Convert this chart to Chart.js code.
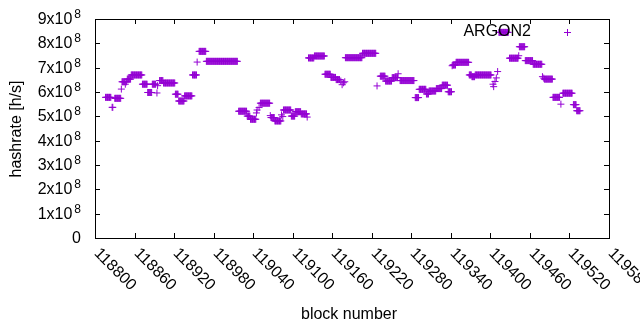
<!DOCTYPE html>
<html>

<head>
    <title>ARGON2 hashrate</title>
    <script src="https://cdn.jsdelivr.net/npm/chart.js"></script>
    <style>
        body { margin: 0; background: #fff; }
        #wrap { width: 640px; height: 330px; }
    </style>
</head>

<body>
    <div id="wrap"><canvas id="hashChart"></canvas></div>
    <script>
        // runs of blocks with the same hashrate: first block, last block, hashrate [h/s]
        var runStart = [118816, 118826, 118830, 118840, 118841, 118846, 118847, 118849, 118855, 118872,
            118880, 118887, 118894, 118895, 118898, 118904, 118922, 118927, 118936, 118948,
            118955, 118958, 118969, 119018, 119031, 119036, 119045, 119046, 119049, 119051,
            119066, 119067, 119073, 119083, 119085, 119086, 119098, 119104, 119113, 119122,
            119124, 119133, 119149, 119158, 119166, 119173, 119175, 119177, 119179, 119180,
            119206, 119228, 119233, 119241, 119251, 119260, 119263, 119286, 119292, 119303,
            119307, 119318, 119327, 119336, 119342, 119343, 119348, 119368, 119372, 119377,
            119404, 119405, 119407, 119409, 119411, 119413, 119429, 119443, 119444, 119453,
            119465, 119479, 119481, 119482, 119495, 119507, 119510, 119526, 119531];
        var runEnd = [118824, 118827, 118839, 118840, 118845, 118846, 118848, 118854, 118871, 118879,
            118886, 118892, 118894, 118895, 118903, 118921, 118926, 118935, 118947, 118954,
            118955, 118968, 119016, 119030, 119035, 119044, 119045, 119046, 119049, 119065,
            119066, 119072, 119082, 119083, 119085, 119097, 119103, 119112, 119121, 119122,
            119132, 119148, 119157, 119165, 119171, 119173, 119175, 119177, 119179, 119205,
            119226, 119228, 119240, 119250, 119259, 119260, 119284, 119291, 119302, 119306,
            119317, 119326, 119335, 119341, 119342, 119347, 119367, 119371, 119376, 119401,
            119404, 119405, 119407, 119409, 119411, 119427, 119442, 119443, 119452, 119464,
            119478, 119479, 119481, 119494, 119505, 119507, 119524, 119530, 119536];
        var runHashrate = [5.78e8, 5.37e8, 5.74e8, 6.12e8, 6.42e8, 6.32e8, 6.42e8, 6.53e8, 6.70e8, 6.32e8,
            5.98e8, 6.32e8, 5.96e8, 6.26e8, 6.47e8, 6.37e8, 5.91e8, 5.63e8, 5.84e8, 6.70e8,
            7.23e8, 7.67e8, 7.26e8, 5.21e8, 5.01e8, 4.88e8, 5.14e8, 5.26e8, 5.36e8, 5.54e8,
            5.03e8, 4.95e8, 4.81e8, 5.06e8, 4.99e8, 5.26e8, 5.01e8, 5.19e8, 5.10e8, 4.97e8,
            7.40e8, 7.48e8, 6.73e8, 6.60e8, 6.51e8, 6.45e8, 6.30e8, 6.38e8, 6.42e8, 7.41e8,
            7.59e8, 6.25e8, 6.65e8, 6.45e8, 6.59e8, 6.75e8, 6.47e8, 5.77e8, 6.11e8, 5.92e8,
            6.04e8, 6.14e8, 6.28e8, 6.01e8, 7.08e8, 7.11e8, 7.22e8, 6.70e8, 6.63e8, 6.70e8,
            6.32e8, 6.22e8, 6.43e8, 6.58e8, 6.84e8, 8.45e8, 7.39e8, 7.49e8, 7.86e8, 7.29e8,
            7.14e8, 6.63e8, 6.57e8, 6.53e8, 5.78e8, 5.50e8, 5.95e8, 5.48e8, 5.23e8];

        var xTicks = [118800, 118860, 118920, 118980, 119040, 119100, 119160, 119220,
            119280, 119340, 119400, 119460, 119520, 119580];
        var yTicks = [0, 1e8, 2e8, 3e8, 4e8, 5e8, 6e8, 7e8, 8e8, 9e8];

        var seriesName = 'ARGON2';
        var purple = '#9400d3';
        var font = '"Liberation Sans", Arial, sans-serif';

        // one point per block
        var points = [];
        for (var i = 0; i < runStart.length; i++) {
            for (var b = runStart[i]; b <= runEnd[i]; b++) {
                points.push({ x: b, y: runHashrate[i] });
            }
        }

        function line(ctx, x1, y1, x2, y2) {
            ctx.beginPath();
            ctx.moveTo(x1, y1);
            ctx.lineTo(x2, y2);
            ctx.stroke();
        }

        // gnuplot style frame, inward ticks, labels and key
        const gnuplotFrame = {
            id: 'gnuplotFrame',
            afterDraw(chart) {
                const ctx = chart.ctx;
                const a = chart.chartArea;
                const xs = chart.scales.x;
                const ys = chart.scales.y;
                ctx.save();
                ctx.strokeStyle = '#000';
                ctx.lineWidth = 1;
                ctx.strokeRect(a.left + 0.5, a.top + 0.5, a.right - a.left, a.bottom - a.top);

                ctx.fillStyle = '#000';
                xTicks.forEach(v => {
                    const px = Math.round(xs.getPixelForValue(v)) + 0.5;
                    line(ctx, px, a.bottom, px, a.bottom - 5);
                    line(ctx, px, a.top, px, a.top + 5);
                    ctx.save();
                    ctx.translate(px + 1, a.bottom + 13);
                    ctx.rotate(Math.PI / 4);
                    ctx.font = '16px ' + font;
                    ctx.textAlign = 'left';
                    ctx.textBaseline = 'middle';
                    ctx.fillText(String(v), 0, 0);
                    ctx.restore();
                });

                yTicks.forEach(v => {
                    const py = Math.round(ys.getPixelForValue(v)) + 0.5;
                    line(ctx, a.left, py, a.left + 5, py);
                    line(ctx, a.right, py, a.right - 5, py);
                    const rightEdge = 81;
                    ctx.textBaseline = 'middle';
                    ctx.textAlign = 'right';
                    if (v === 0) {
                        ctx.font = '16px ' + font;
                        ctx.fillText('0', rightEdge, py);
                    } else {
                        ctx.font = '12px ' + font;
                        ctx.fillText('8', rightEdge, py - 5);
                        const supW = ctx.measureText('8').width;
                        ctx.font = '16px ' + font;
                        ctx.fillText((v / 1e8) + 'x10', rightEdge - supW - 2, py);
                    }
                });

                // axis titles
                ctx.font = '16px ' + font;
                ctx.textAlign = 'center';
                ctx.textBaseline = 'middle';
                ctx.fillText('block number', 349, 315);
                ctx.save();
                ctx.translate(17, 129);
                ctx.rotate(-Math.PI / 2);
                ctx.fillText('hashrate [h/s]', 0, 0);
                ctx.restore();

                // key
                ctx.textAlign = 'right';
                ctx.fillText(seriesName, 531, 32);
                ctx.strokeStyle = purple;
                line(ctx, 564, 32.5, 571, 32.5);
                line(ctx, 567.5, 29, 567.5, 36);
                ctx.restore();
            }
        };

        const ctx = document.getElementById('hashChart').getContext('2d');
        const chart = new Chart(ctx, {
            type: 'scatter',
            data: {
                datasets: [{
                    label: seriesName,
                    data: points,
                    pointStyle: 'cross',
                    pointRadius: 3.5,
                    pointBorderWidth: 1,
                    borderColor: purple,
                    backgroundColor: purple
                }]
            },
            options: {
                responsive: true,
                maintainAspectRatio: false,
                animation: false,
                events: [],
                layout: {
                    padding: { left: 95, right: 31, top: 19, bottom: 92 }
                },
                plugins: {
                    legend: { display: false },
                    tooltip: { enabled: false }
                },
                scales: {
                    x: {
                        type: 'linear',
                        display: false,
                        min: 118800,
                        max: 119580
                    },
                    y: {
                        display: false,
                        min: 0,
                        max: 9e8
                    }
                }
            },
            plugins: [gnuplotFrame]
        });
    </script>
</body>

</html>
